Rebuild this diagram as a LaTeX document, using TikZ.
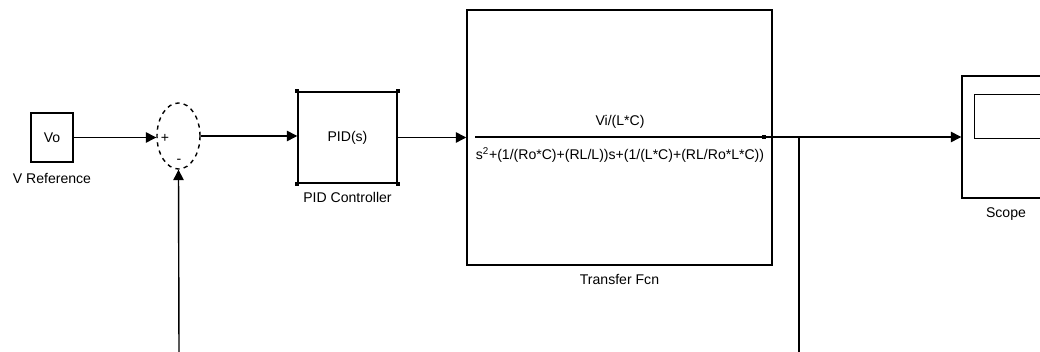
\documentclass[tikz,border=0pt]{standalone}
\usepackage{fontspec}
\setmainfont{Liberation Sans}
\usepackage{tikz}
\usetikzlibrary{positioning,arrows.meta,shapes.geometric}

\begin{document}
\begin{tikzpicture}[
  x=0.025cm, y=-0.025cm,
  blk/.style={draw, line width=1pt, inner sep=0pt, font=\fontsize{10}{11}\selectfont},
  lbl/.style={font=\fontsize{10}{11}\selectfont, inner sep=0pt},
  arr/.style={-{Triangle[length=2.6mm, width=2.6mm]}, line width=1pt},
  wire/.style={line width=1pt},
  handle/.style={fill=black, minimum size=1.1mm, inner sep=0pt},
]
\useasboundingbox (0,0) rectangle (1040,352);
\clip (0,0) rectangle (1040,352);

\node[blk, minimum width=1.05cm, minimum height=1.225cm] (vref) at (52,137.5) {Vo};
\node[lbl, below=0.25cm of vref] (vrefl) {V Reference};

\node[blk, ellipse, dashed, minimum width=1.075cm, minimum height=1.65cm] (sum) at (178.5,136) {};
\node[lbl] (plus) at (165,138) {+};
\node[lbl] (minus) at (179,161) {-};

\node[blk, minimum width=2.475cm, minimum height=2.275cm] (pid) at (347.5,137.5) {PID(s)};
\node[lbl, below=0.2cm of pid] (pidl) {PID Controller};
\foreach \c in {north west,north east,south west,south east}
  \node[handle] at (pid.\c) {};

\node[blk, minimum width=7.625cm, minimum height=6.375cm] (tf) at (619.5,137.5) {};
\node[lbl, below=0.22cm of tf] (tfl) {Transfer Fcn};
\coordinate (tfin) at (475,137);
\coordinate (tfout) at (764,137);
\node[lbl] (num) at (620,122) {Vi/(L*C)};
\node[lbl] (den) at (620,155) {s\textsuperscript{2}+(1/(Ro*C)+(RL/L))s+(1/(L*C)+(RL/Ro*L*C))};
\node[fill=black, minimum size=0.9mm, inner sep=0pt] (dot) at (tfout) {};

\node[blk, minimum width=2.2cm, minimum height=3.05cm] (scope) at (1006,137) {};
\node[draw, line width=1pt, minimum width=1.7cm, minimum height=1.1cm, inner sep=0pt, anchor=north west] (screen) at (974,94) {};
\node[lbl, below=0.22cm of scope] (scopel) {Scope};

\coordinate (br) at (799,137);
\coordinate (brend) at (799,352);
\coordinate (fbstart) at (179,352);

\draw[arr] (vref.east) -- (vref.east -| sum.west);
\draw[arr] (fbstart) -- (sum.south);
\draw[arr] (sum.east) -- (sum.east -| pid.west);
\draw[arr] (pid.east) -- (pid.east -| tf.west);
\draw[wire] (tfin) -- (tfout);
\draw[arr] (tfout) -- (tfout -| scope.west);
\draw[wire] (br) -- (brend);
\end{tikzpicture}
\end{document}
